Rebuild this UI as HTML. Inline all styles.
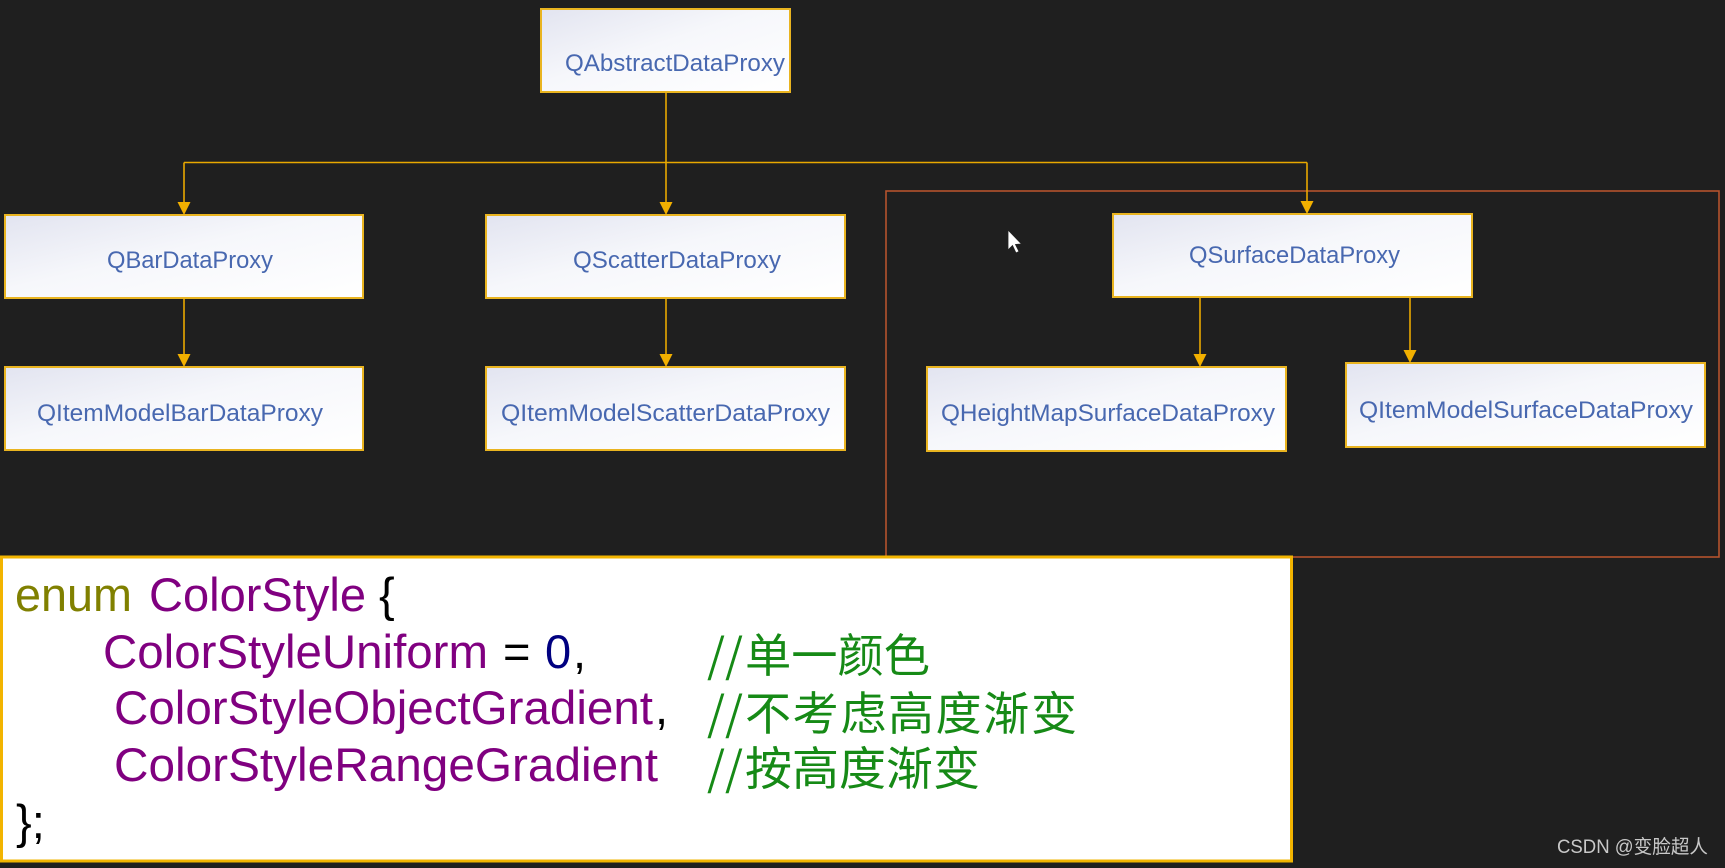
<!DOCTYPE html>
<html><head><meta charset="utf-8">
<style>
html,body{margin:0;padding:0;background:#1f1f1f;}
svg{display:block;}
</style></head>
<body>
<svg width="1725" height="868" viewBox="0 0 1725 868" xmlns="http://www.w3.org/2000/svg">
<defs>
<linearGradient id="bg" x1="0" y1="0" x2="1" y2="1">
<stop offset="0" stop-color="#e2e4f0"/>
<stop offset="0.45" stop-color="#f6f7fb"/>
<stop offset="1" stop-color="#ffffff"/>
</linearGradient>
</defs>
<rect x="0" y="0" width="1725" height="868" fill="#1f1f1f"/>

<!-- red selection rect -->
<rect x="886" y="191" width="833" height="366" fill="none" stroke="#b4532e" stroke-width="1.6"/>

<!-- connectors -->
<g stroke="#e8a800" stroke-width="1.6" fill="none">
<path d="M666 92 V203"/>
<path d="M184 162.5 H1307"/>
<path d="M184 162.5 V203"/>
<path d="M1307 162.5 V202"/>
<path d="M184 298 V355"/>
<path d="M666 298 V355"/>
<path d="M1200 297 V355"/>
<path d="M1410 297 V351"/>
</g>
<g fill="#f2b000">
<polygon points="659.5,202 672.5,202 666,215"/>
<polygon points="177.5,202 190.5,202 184,215"/>
<polygon points="1300.5,201 1313.5,201 1307,214"/>
<polygon points="177.5,354 190.5,354 184,367"/>
<polygon points="659.5,354 672.5,354 666,367"/>
<polygon points="1193.5,354 1206.5,354 1200,367"/>
<polygon points="1403.5,350 1416.5,350 1410,363"/>
</g>

<!-- boxes -->
<g fill="url(#bg)" stroke="#e9b420" stroke-width="2">
<rect x="541" y="9" width="249" height="83"/>
<rect x="5" y="215" width="358" height="83"/>
<rect x="486" y="215" width="359" height="83"/>
<rect x="5" y="367" width="358" height="83"/>
<rect x="486" y="367" width="359" height="83"/>
<rect x="1113" y="214" width="359" height="83"/>
<rect x="927" y="367" width="359" height="84"/>
<rect x="1346" y="363" width="359" height="84"/>
</g>

<g font-family="Liberation Sans, sans-serif" font-size="24" fill="#4868b0">
<text x="565" y="71" textLength="220" lengthAdjust="spacingAndGlyphs">QAbstractDataProxy</text>
<text x="107" y="268" textLength="166" lengthAdjust="spacingAndGlyphs">QBarDataProxy</text>
<text x="573" y="268" textLength="208" lengthAdjust="spacingAndGlyphs">QScatterDataProxy</text>
<text x="37" y="421" textLength="286" lengthAdjust="spacingAndGlyphs">QItemModelBarDataProxy</text>
<text x="501" y="421" textLength="329" lengthAdjust="spacingAndGlyphs">QItemModelScatterDataProxy</text>
<text x="1189" y="263" textLength="211" lengthAdjust="spacingAndGlyphs">QSurfaceDataProxy</text>
<text x="941" y="421" textLength="334" lengthAdjust="spacingAndGlyphs">QHeightMapSurfaceDataProxy</text>
<text x="1359" y="418" textLength="334" lengthAdjust="spacingAndGlyphs">QItemModelSurfaceDataProxy</text>
</g>

<!-- cursor -->
<polygon points="1008,230 1008,250 1012.5,245.5 1016,253 1019,251.5 1015.5,244.5 1021.5,244" fill="#ffffff" stroke="#222" stroke-width="0.8"/>

<!-- code panel -->
<rect x="1.5" y="557" width="1290" height="304" fill="#ffffff" stroke="#f2b400" stroke-width="3"/>

<g font-family="Liberation Sans, sans-serif" font-size="47">
<text x="15" y="611" fill="#808000" textLength="117" lengthAdjust="spacingAndGlyphs">enum</text>
<text x="149" y="611" fill="#800080" textLength="217" lengthAdjust="spacingAndGlyphs">ColorStyle</text>
<text x="379" y="611" fill="#000000">{</text>

<text x="103" y="668" fill="#800080" textLength="385" lengthAdjust="spacingAndGlyphs">ColorStyleUniform</text>
<text x="503" y="668" fill="#000000">=</text>
<text x="545" y="668" fill="#000080">0</text>
<text x="573" y="668" fill="#000000">,</text>

<text x="114" y="724" fill="#800080" textLength="539" lengthAdjust="spacingAndGlyphs">ColorStyleObjectGradient</text>
<text x="655" y="724" fill="#000000">,</text>

<text x="114" y="781" fill="#800080" textLength="544" lengthAdjust="spacingAndGlyphs">ColorStyleRangeGradient</text>

<text x="16" y="838" fill="#000000">};</text>
</g>

<g font-family="Noto Sans CJK SC, WenQuanYi Zen Hei, sans-serif" font-size="46" fill="#168a16">
<text x="707" y="672">//</text>
<text x="745" y="672" textLength="185" lengthAdjust="spacingAndGlyphs">单一颜色</text>
<text x="707" y="730">//</text>
<text x="745" y="730" textLength="332" lengthAdjust="spacing">不考虑高度渐变</text>
<text x="707" y="785">//</text>
<text x="745" y="785" textLength="235" lengthAdjust="spacingAndGlyphs">按高度渐变</text>
</g>

<!-- watermark -->
<text x="1557" y="853" font-family="Liberation Sans, Noto Sans CJK SC, sans-serif" font-size="19" fill="#c8c8c8" textLength="151" lengthAdjust="spacingAndGlyphs">CSDN @变脸超人</text>
</svg>
</body></html>
